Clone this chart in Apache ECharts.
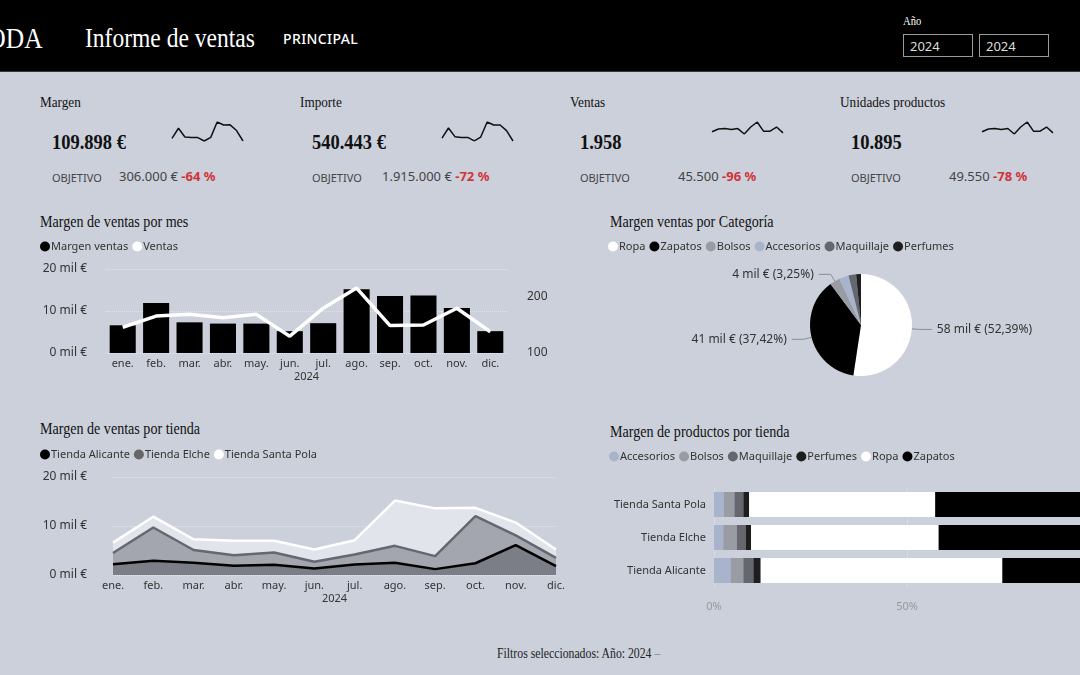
<!DOCTYPE html>
<html><head><meta charset="utf-8">
<script src="https://cdn.jsdelivr.net/npm/echarts@6/dist/echarts.min.js"></script>
<style>
body{margin:0;width:1080px;height:675px;background:#cbd0db;overflow:hidden;position:relative;font-family:'Noto Sans',sans-serif;}
#hdr{position:absolute;left:0;top:0;width:1080px;height:71px;background:#000;border-bottom:1px solid #3a3a3a;}
.t{position:absolute;white-space:nowrap;line-height:1;}
.serif{font-family:'Liberation Serif',serif;transform-origin:left center;transform:scaleX(0.88);}
.box{position:absolute;top:34px;width:68px;height:23px;border:1px solid #9a9a9a;color:#ddd;font-size:13px;line-height:23px;padding-left:6px;box-sizing:border-box;}
#chart{position:absolute;left:0;top:0;width:1080px;height:675px;}
</style></head><body>
<div id="hdr">
  <div class="t serif" style="right:1037px;top:24px;font-size:29px;color:#fff;transform-origin:right center;">MODA</div>
  <div class="t serif" style="left:85px;top:24px;font-size:28px;color:#fff;transform:scaleX(0.84);">Informe de ventas</div>
  <div class="t" style="left:283px;top:32px;font-size:14px;font-weight:500;color:#fff;letter-spacing:0.4px;">PRINCIPAL</div>
  <div class="t serif" style="left:903px;top:15px;font-size:12px;color:#fff;">Año</div>
  <div class="box" style="left:903px;width:70px;">2024</div>
  <div class="box" style="left:979px;width:70px;">2024</div>
</div>
<div id="kpis"></div>
<div class="t serif" style="left:40px;top:214px;font-size:16px;color:#111;">Margen de ventas por mes</div>
<div class="t serif" style="left:610px;top:214px;font-size:16px;color:#111;">Margen ventas por Categoría</div>
<div class="t serif" style="left:40px;top:421px;font-size:16px;color:#111;">Margen de ventas por tienda</div>
<div class="t serif" style="left:610px;top:424px;font-size:16px;color:#111;">Margen de productos por tienda</div>
<div class="t serif" style="left:497px;top:647px;font-size:14px;color:#222;transform:scaleX(0.84);">Filtros seleccionados: Año: 2024 <span style="color:#888">–</span></div>
<div id="chart"></div>
<script>
// ---- data ----
const months = ['ene.','feb.','mar.','abr.','may.','jun.','jul.','ago.','sep.','oct.','nov.','dic.'];
const margenMes = [6.6, 11.9, 7.3, 7.0, 7.0, 5.2, 7.1, 15.2, 13.6, 13.7, 10.7, 5.2];
const ventasMes = [146, 166, 169, 163, 169, 130, 180, 216, 149, 150, 180, 138];
const importeMes = [32, 59, 36, 34, 34, 25, 35, 75, 67, 67, 52, 24.5];
const unidadesMes = [812, 923, 940, 906, 940, 723, 1000, 1200, 828, 834, 1000, 767];

const kpiNames = ['Margen', 'Importe', 'Ventas', 'Unidades productos'];
const kpiValues = ['109.898 €', '540.443 €', '1.958', '10.895'];
const kpiTargets = ['306.000 €', '1.915.000 €', '45.500', '49.550'];
const kpiDeltas = ['-64 %', '-72 %', '-96 %', '-78 %'];

const tiendasLeyenda = ['Tienda Alicante', 'Tienda Elche', 'Tienda Santa Pola'];
const alicante = [2.2, 2.9, 2.5, 1.9, 2.1, 1.35, 2.15, 2.5, 1.2, 2.4, 6.1, 1.8];
const elche = [2.3, 6.8, 2.6, 2.15, 2.5, 1.35, 2.05, 3.45, 2.65, 9.6, 2.0, 1.7];
const santaPola = [2.1, 2.2, 2.2, 2.95, 2.4, 2.5, 2.9, 9.25, 9.75, 1.7, 2.6, 1.7];

const categorias = ['Ropa', 'Zapatos', 'Bolsos', 'Accesorios', 'Maquillaje', 'Perfumes'];
const margenCat = [57.58, 41.12, 3.57, 3.3, 2.64, 1.69];

const tiendas = ['Tienda Alicante', 'Tienda Elche', 'Tienda Santa Pola'];
const productos = ['Accesorios', 'Bolsos', 'Maquillaje', 'Perfumes', 'Ropa', 'Zapatos'];
const accesoriosPct = [4.3, 2.4, 2.6];
const bolsosPct = [3.3, 3.5, 2.7];
const maquillajePct = [2.6, 2.3, 2.3];
const perfumesPct = [1.9, 1.4, 1.5];
const ropaPct = [62.6, 48.6, 48.2];
const zapatosPct = [25.3, 41.8, 42.7];

const yTicks = [0, 10, 20];

// ---- KPI text ----
const kpiX = [40, 300, 570, 840];
const kpiValX = [52, 312, 580, 851];
const kpiTgtX = [119, 382, 678, 949];
let html = '';
kpiNames.forEach((n, i) => {
  html += `<div class="t serif" style="left:${kpiX[i]}px;top:95px;font-size:15px;color:#111;">${n}</div>`;
  html += `<div class="t serif" style="left:${kpiValX[i]}px;top:132px;font-size:21px;font-weight:bold;color:#111;">${kpiValues[i]}</div>`;
  html += `<div class="t" style="left:${kpiValX[i]}px;top:172px;font-size:11px;color:#444;">OBJETIVO</div>`;
  html += `<div class="t" style="left:${kpiTgtX[i]}px;top:170px;font-size:13px;color:#444;">${kpiTargets[i]} <span style="color:#d13438;font-weight:700">${kpiDeltas[i]}</span></div>`;
});
document.getElementById('kpis').innerHTML = html;

// ---- colors ----
const catColor = {Ropa:'#ffffff', Zapatos:'#000000', Bolsos:'#9a9ca4', Accesorios:'#a8b3cc', Maquillaje:'#64676e', Perfumes:'#1e1e1e'};
const txt = '#333';
const fontFam = 'Noto Sans';
const legendBase = {icon:'circle', itemWidth:10, itemHeight:10, itemGap:4, selectedMode:false, padding:0,
  textStyle:{color:txt, fontSize:11, fontFamily:fontFam, padding:[0,0,0,-4]}};
const dotted = {show:true, lineStyle:{type:'dotted', color:'#e2e5ec', width:1}};

const sparkGrids = [
  {left:172, top:122, width:71, height:19},
  {left:442, top:122, width:71, height:19},
  {left:712, top:122, width:71, height:12},
  {left:982, top:122, width:71, height:12}
];
const sparkData = [margenMes, importeMes, ventasMes, unidadesMes];

const option = {
  animation:false,
  textStyle:{fontFamily:fontFam},
  grid:[
    {left:106, top:269, width:401, height:84, outerBoundsMode:'none'},
    {left:113, top:477, width:443, height:98, outerBoundsMode:'none'},
    {left:714, top:488, width:386, height:99, outerBoundsMode:'none'},
    ...sparkGrids.map(g => Object.assign({outerBoundsMode:'none'}, g))
  ],
  legend:[
    Object.assign({}, legendBase, {left:40, top:241, data:['Margen ventas','Ventas']}),
    Object.assign({}, legendBase, {left:608, top:241, data:categorias}),
    Object.assign({}, legendBase, {left:40, top:449, data:tiendasLeyenda}),
    Object.assign({}, legendBase, {left:609, top:451, data:productos})
  ],
  xAxis:[
    {type:'category', gridIndex:0, data:months, axisLine:{show:false}, axisTick:{show:false},
     axisLabel:{color:txt, fontSize:11, margin:5}, name:'2024', nameLocation:'middle', nameGap:18,
     nameTextStyle:{color:txt, fontSize:11}},
    {type:'category', gridIndex:1, data:months, boundaryGap:false, axisLine:{show:false}, axisTick:{show:false},
     axisLabel:{color:txt, fontSize:11, margin:5}, name:'2024', nameLocation:'middle', nameGap:18,
     nameTextStyle:{color:txt, fontSize:11}},
    {type:'value', gridIndex:2, min:0, max:100, interval:50, axisLine:{show:false}, axisTick:{show:false},
     axisLabel:{color:'#999', fontSize:11, margin:14, formatter:'{value}%'}, splitLine:dotted},
    ...sparkGrids.map((g, i) => ({type:'category', gridIndex:3+i, data:months, boundaryGap:false, show:false}))
  ],
  yAxis:[
    {type:'value', gridIndex:0, min:yTicks[0], max:yTicks[2], interval:10, axisLabel:{color:txt, fontSize:12, margin:19, formatter:'{value} mil €'}, splitLine:dotted},
    {type:'value', gridIndex:0, position:'right', min:100, max:250, interval:50, splitLine:{show:false},
     axisLabel:{color:txt, fontSize:12, margin:20, formatter:v => (v % 100 === 0 ? String(v) : '')}},
    {type:'value', gridIndex:1, min:yTicks[0], max:yTicks[2], interval:10, axisLabel:{color:txt, fontSize:12, margin:26, formatter:'{value} mil €'}, splitLine:dotted},
    {type:'category', gridIndex:2, data:tiendas, axisLine:{show:false}, axisTick:{show:false}, axisLabel:{color:txt, fontSize:11, margin:8}},
    ...sparkGrids.map((g, i) => ({type:'value', gridIndex:3+i, show:false, min:'dataMin', max:'dataMax'}))
  ],
  series:[
    {name:'Margen ventas', type:'bar', xAxisIndex:0, yAxisIndex:0, data:margenMes, barCategoryGap:'22%', itemStyle:{color:'#000'}},
    {name:'Ventas', type:'line', xAxisIndex:0, yAxisIndex:1, data:ventasMes, symbol:'none', itemStyle:{color:'#fff'}, lineStyle:{color:'#fff', width:3.5}, z:5},

    {name:'Tienda Alicante', type:'line', xAxisIndex:1, yAxisIndex:2, stack:'t', data:alicante, symbol:'none',
     itemStyle:{color:'#000'}, lineStyle:{color:'#000', width:2.5}, areaStyle:{color:'#7b7e87', opacity:1}},
    {name:'Tienda Elche', type:'line', xAxisIndex:1, yAxisIndex:2, stack:'t', data:elche, symbol:'none',
     itemStyle:{color:'#666'}, lineStyle:{color:'#65686e', width:2.5}, areaStyle:{color:'#a3a6ae', opacity:1}},
    {name:'Tienda Santa Pola', type:'line', xAxisIndex:1, yAxisIndex:2, stack:'t', data:santaPola, symbol:'none',
     itemStyle:{color:'#fff'}, lineStyle:{color:'#fff', width:2.5}, areaStyle:{color:'#e1e4eb', opacity:1}},

    {type:'pie', name:'cat', center:[861, 325], radius:51, startAngle:90, clockwise:true,
     label:{color:txt, fontSize:12, formatter:p => Math.round(p.value) + ' mil € (' + p.percent.toFixed(2).replace('.', ',') + '%)'},
     labelLine:{length:8, length2:12, lineStyle:{color:'#8a8d94', width:1}},
     itemStyle:{borderColor:'#cbd0db', borderWidth:0},
     data:categorias.map((c, i) => ({name:c, value:margenCat[i], itemStyle:{color:catColor[c]},
       label:{show:i < 3}, labelLine:{show:i < 3}}))},

    ...productos.map((p, i) => ({name:p, type:'bar', xAxisIndex:2, yAxisIndex:3, stack:'p', barWidth:25,
      itemStyle:{color:catColor[p]},
      data:[accesoriosPct, bolsosPct, maquillajePct, perfumesPct, ropaPct, zapatosPct][i]})),

    ...sparkData.map((d, i) => ({name:'spark' + i, type:'line', xAxisIndex:3+i, yAxisIndex:4+i, data:d,
      symbol:'none', lineStyle:{color:'#111', width:1.5}, itemStyle:{color:'#111'}}))
  ]
};
const chart = echarts.init(document.getElementById('chart'), null, {renderer:'canvas'});
chart.setOption(option);
</script>
</body></html>
